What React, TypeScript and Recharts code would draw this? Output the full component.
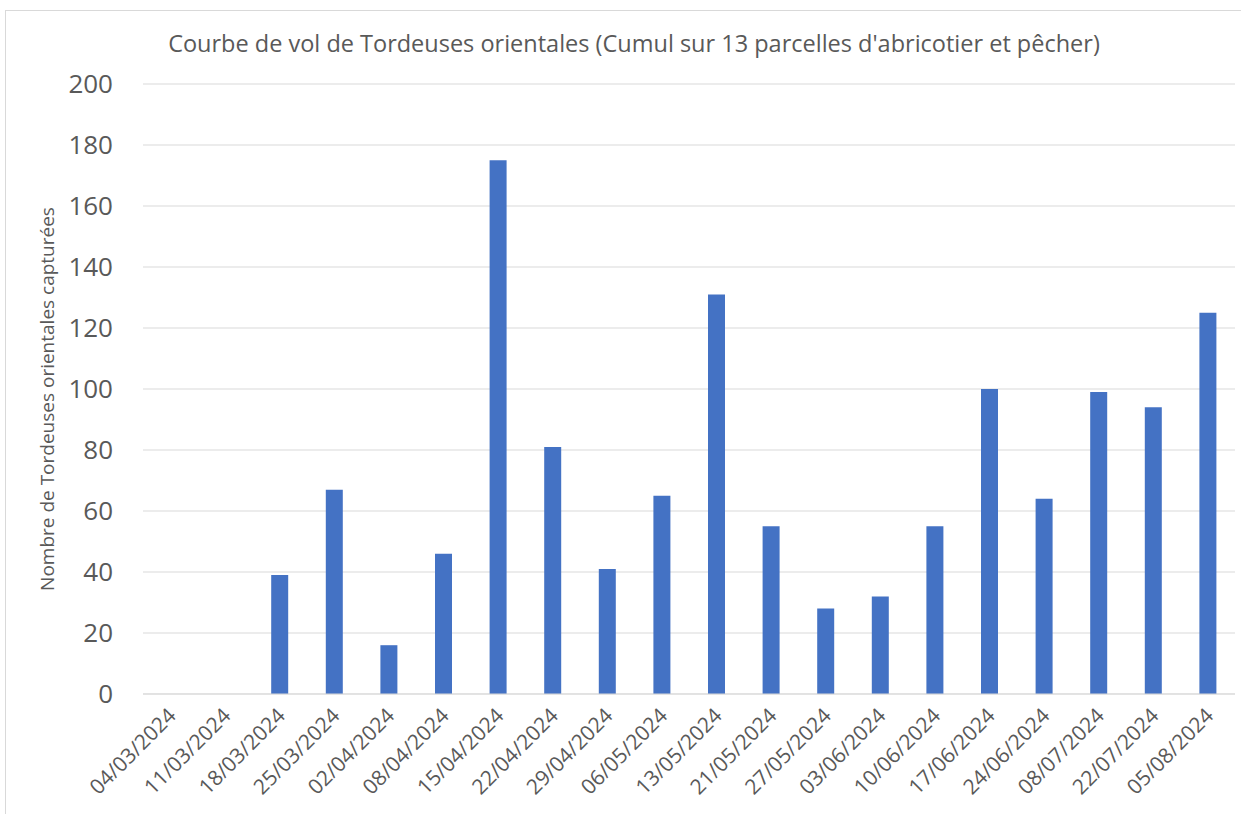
import { Bar, BarChart, CartesianGrid, XAxis, YAxis } from "recharts";

const dates = [
  "04/03/2024",
  "11/03/2024",
  "18/03/2024",
  "25/03/2024",
  "02/04/2024",
  "08/04/2024",
  "15/04/2024",
  "22/04/2024",
  "29/04/2024",
  "06/05/2024",
  "13/05/2024",
  "21/05/2024",
  "27/05/2024",
  "03/06/2024",
  "10/06/2024",
  "17/06/2024",
  "24/06/2024",
  "08/07/2024",
  "22/07/2024",
  "05/08/2024"
];

const captures = [0, 0, 39, 67, 16, 46, 175, 81, 41, 65, 131, 55, 28, 32, 55, 100, 64, 99, 94, 125];

const yTicks = [0, 20, 40, 60, 80, 100, 120, 140, 160, 180, 200];

const data = dates.map((date, i) => ({ date, captures: captures[i] }));

const font = "'Open Sans', 'Noto Sans', sans-serif";

function DateTick(props: any) {
  const { x, y, payload } = props;
  return (
    <text
      x={x + 7}
      y={y + 15}
      transform={`rotate(-45, ${x + 7}, ${y + 15})`}
      textAnchor="end"
      fontSize={21}
      fontFamily={font}
      fill="#595959"
    >
      {payload.value}
    </text>
  );
}

export default function App() {
  return (
    <div
      style={{
        position: "absolute",
        left: 0,
        top: 0,
        width: 1241,
        height: 814,
        overflow: "hidden",
        background: "#fff"
      }}
    >
      <div
        style={{
          position: "absolute",
          left: 5,
          top: 10,
          width: 1300,
          height: 900,
          border: "1px solid #d9d9d9"
        }}
      />
      <div
        style={{
          position: "absolute",
          left: 0,
          top: 27,
          width: 1268,
          textAlign: "center",
          fontFamily: font,
          fontSize: 23.5,
          color: "#595959"
        }}
      >
        Courbe de vol de Tordeuses orientales (Cumul sur 13 parcelles d'abricotier et pêcher)
      </div>
      <div style={{ position: "absolute", left: 0, top: 0 }}>
        <BarChart width={1241} height={814} data={data} margin={{ top: 84, right: 6, left: 0, bottom: 0 }}>
          <CartesianGrid stroke="#d9d9d9" vertical={false} />
          <XAxis
            dataKey="date"
            height={120}
            interval={0}
            tickLine={false}
            axisLine={{ stroke: "#d9d9d9" }}
            tick={<DateTick />}
          />
          <YAxis
            width={143}
            domain={[0, 200]}
            ticks={yTicks}
            tickLine={false}
            axisLine={false}
            tickSize={0}
            tickMargin={30}
            tick={{ fontSize: 26, fontFamily: font, fill: "#595959" }}
            label={{
              value: "Nombre de Tordeuses  orientales capturées",
              angle: -90,
              position: "insideLeft",
              dx: 42,
              dy: 10,
              style: { fontSize: 19, fontFamily: font, fill: "#595959", textAnchor: "middle" }
            }}
          />
          <Bar dataKey="captures" fill="#4472c4" barSize={17} isAnimationActive={false} />
        </BarChart>
      </div>
    </div>
  );
}
